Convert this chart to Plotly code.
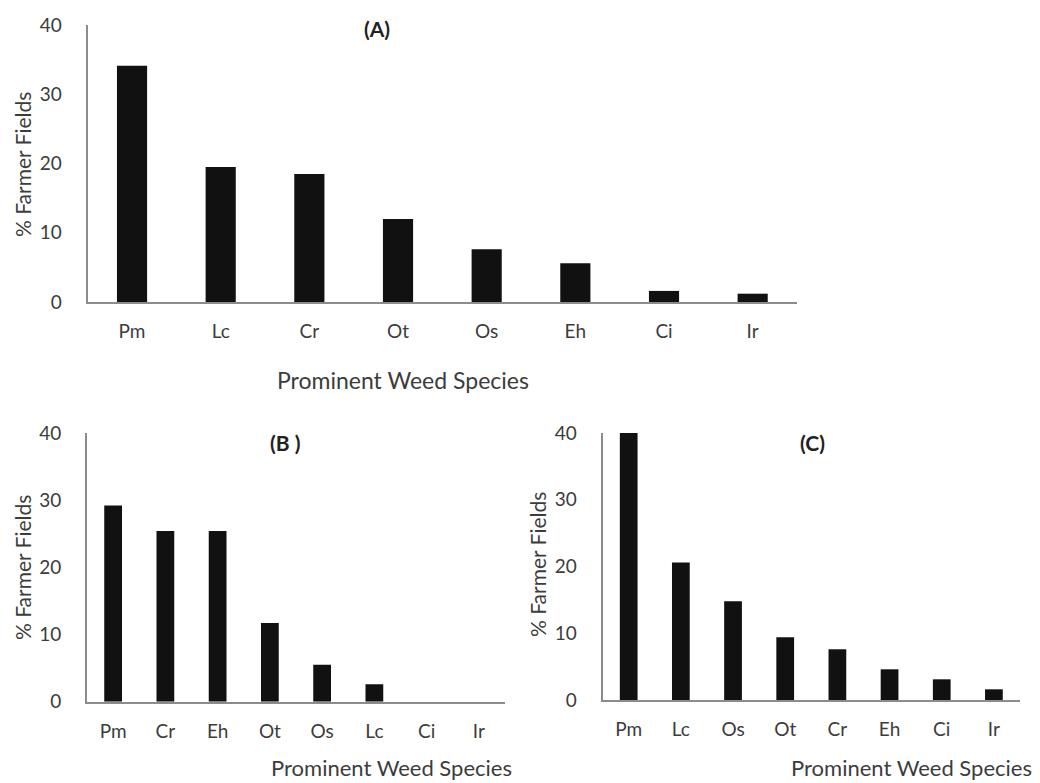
import plotly.graph_objects as go

W, H = 1040, 783

cats_a = ["Pm", "Lc", "Cr", "Ot", "Os", "Eh", "Ci", "Ir"]
vals_a = [34.1, 19.5, 18.5, 12.0, 7.6, 5.6, 1.6, 1.2]

cats_b = ["Pm", "Cr", "Eh", "Ot", "Os", "Lc", "Ci", "Ir"]
vals_b = [29.2, 25.4, 25.4, 11.7, 5.5, 2.6, 0.0, 0.0]

cats_c = ["Pm", "Lc", "Os", "Ot", "Cr", "Eh", "Ci", "Ir"]
vals_c = [40.0, 20.6, 14.8, 9.4, 7.6, 4.6, 3.1, 1.6]

y_ticks = [0, 10, 20, 30, 40]
panel_titles = ["(A)", "(B )", "(C)"]
x_title = "Prominent Weed Species"
y_title = "% Farmer Fields"

FONT = "Lato"
TXT = "#3c3c3c"
BAR = "#111111"
AXC = "#8c8c8c"

def px(x):
    return x / W

def py(y):
    return 1 - y / H

fig = go.Figure()

panels = [
    dict(cats=cats_a, vals=vals_a, xd=[87.7, 797], yd=[25, 302], xa="x", ya="y"),
    dict(cats=cats_b, vals=vals_b, xd=[87, 505], yd=[433, 701.7], xa="x2", ya="y2"),
    dict(cats=cats_c, vals=vals_c, xd=[602.6, 1020], yd=[433, 700], xa="x3", ya="y3"),
]

layout_axes = {}
for i, p in enumerate(panels):
    fig.add_trace(go.Bar(x=p["cats"], y=p["vals"], xaxis=p["xa"], yaxis=p["ya"],
                         marker=dict(color=BAR, line=dict(width=0)), showlegend=False))
    sfx = "" if i == 0 else str(i + 1)
    layout_axes["xaxis" + sfx] = dict(
        domain=[px(p["xd"][0]), px(p["xd"][1])], anchor="y" + sfx,
        type="category", showline=True, linecolor=AXC, linewidth=2,
        showgrid=False, zeroline=False, ticks="", ticklabelstandoff=11,
        automargin=False,
        tickfont=dict(family=FONT, size=19, color=TXT), fixedrange=True)
    layout_axes["yaxis" + sfx] = dict(
        domain=[py(p["yd"][1]), py(p["yd"][0])], anchor="x" + sfx,
        range=[0, 40], tickvals=y_ticks, showline=True, linecolor=AXC, linewidth=2,
        showgrid=False, zeroline=False, ticks="", ticklabelstandoff=20,
        automargin=False,
        tickfont=dict(family=FONT, size=19, color=TXT), fixedrange=True)

fig.update_layout(**layout_axes)

annos = []
# panel titles
for t, (x, y) in zip(panel_titles, [(377, 28), (285, 443), (812, 443)]):
    annos.append(dict(text="<b>" + t + "</b>", x=px(x), y=py(y), xref="paper", yref="paper",
                      showarrow=False, xanchor="center", yanchor="middle",
                      font=dict(family=FONT, size=21, color="#222222")))
# x titles
for (x, y, s) in [(403, 380, 23), (391, 767, 22), (911, 767, 22)]:
    annos.append(dict(text=x_title, x=px(x), y=py(y), xref="paper", yref="paper",
                      showarrow=False, xanchor="center", yanchor="middle",
                      font=dict(family=FONT, size=s, color=TXT)))
# y titles
for (x, y) in [(22, 165), (22, 568), (537, 565)]:
    annos.append(dict(text=y_title, x=px(x), y=py(y), xref="paper", yref="paper",
                      showarrow=False, xanchor="center", yanchor="middle", textangle=-90,
                      font=dict(family=FONT, size=21, color=TXT)))

fig.update_layout(
    width=W, height=H, autosize=False,
    margin=dict(l=0, r=0, t=0, b=0, autoexpand=False),
    paper_bgcolor="white", plot_bgcolor="white",
    bargap=0.66, annotations=annos,
)

fig.write_html("out.html", config={"displayModeBar": False})
